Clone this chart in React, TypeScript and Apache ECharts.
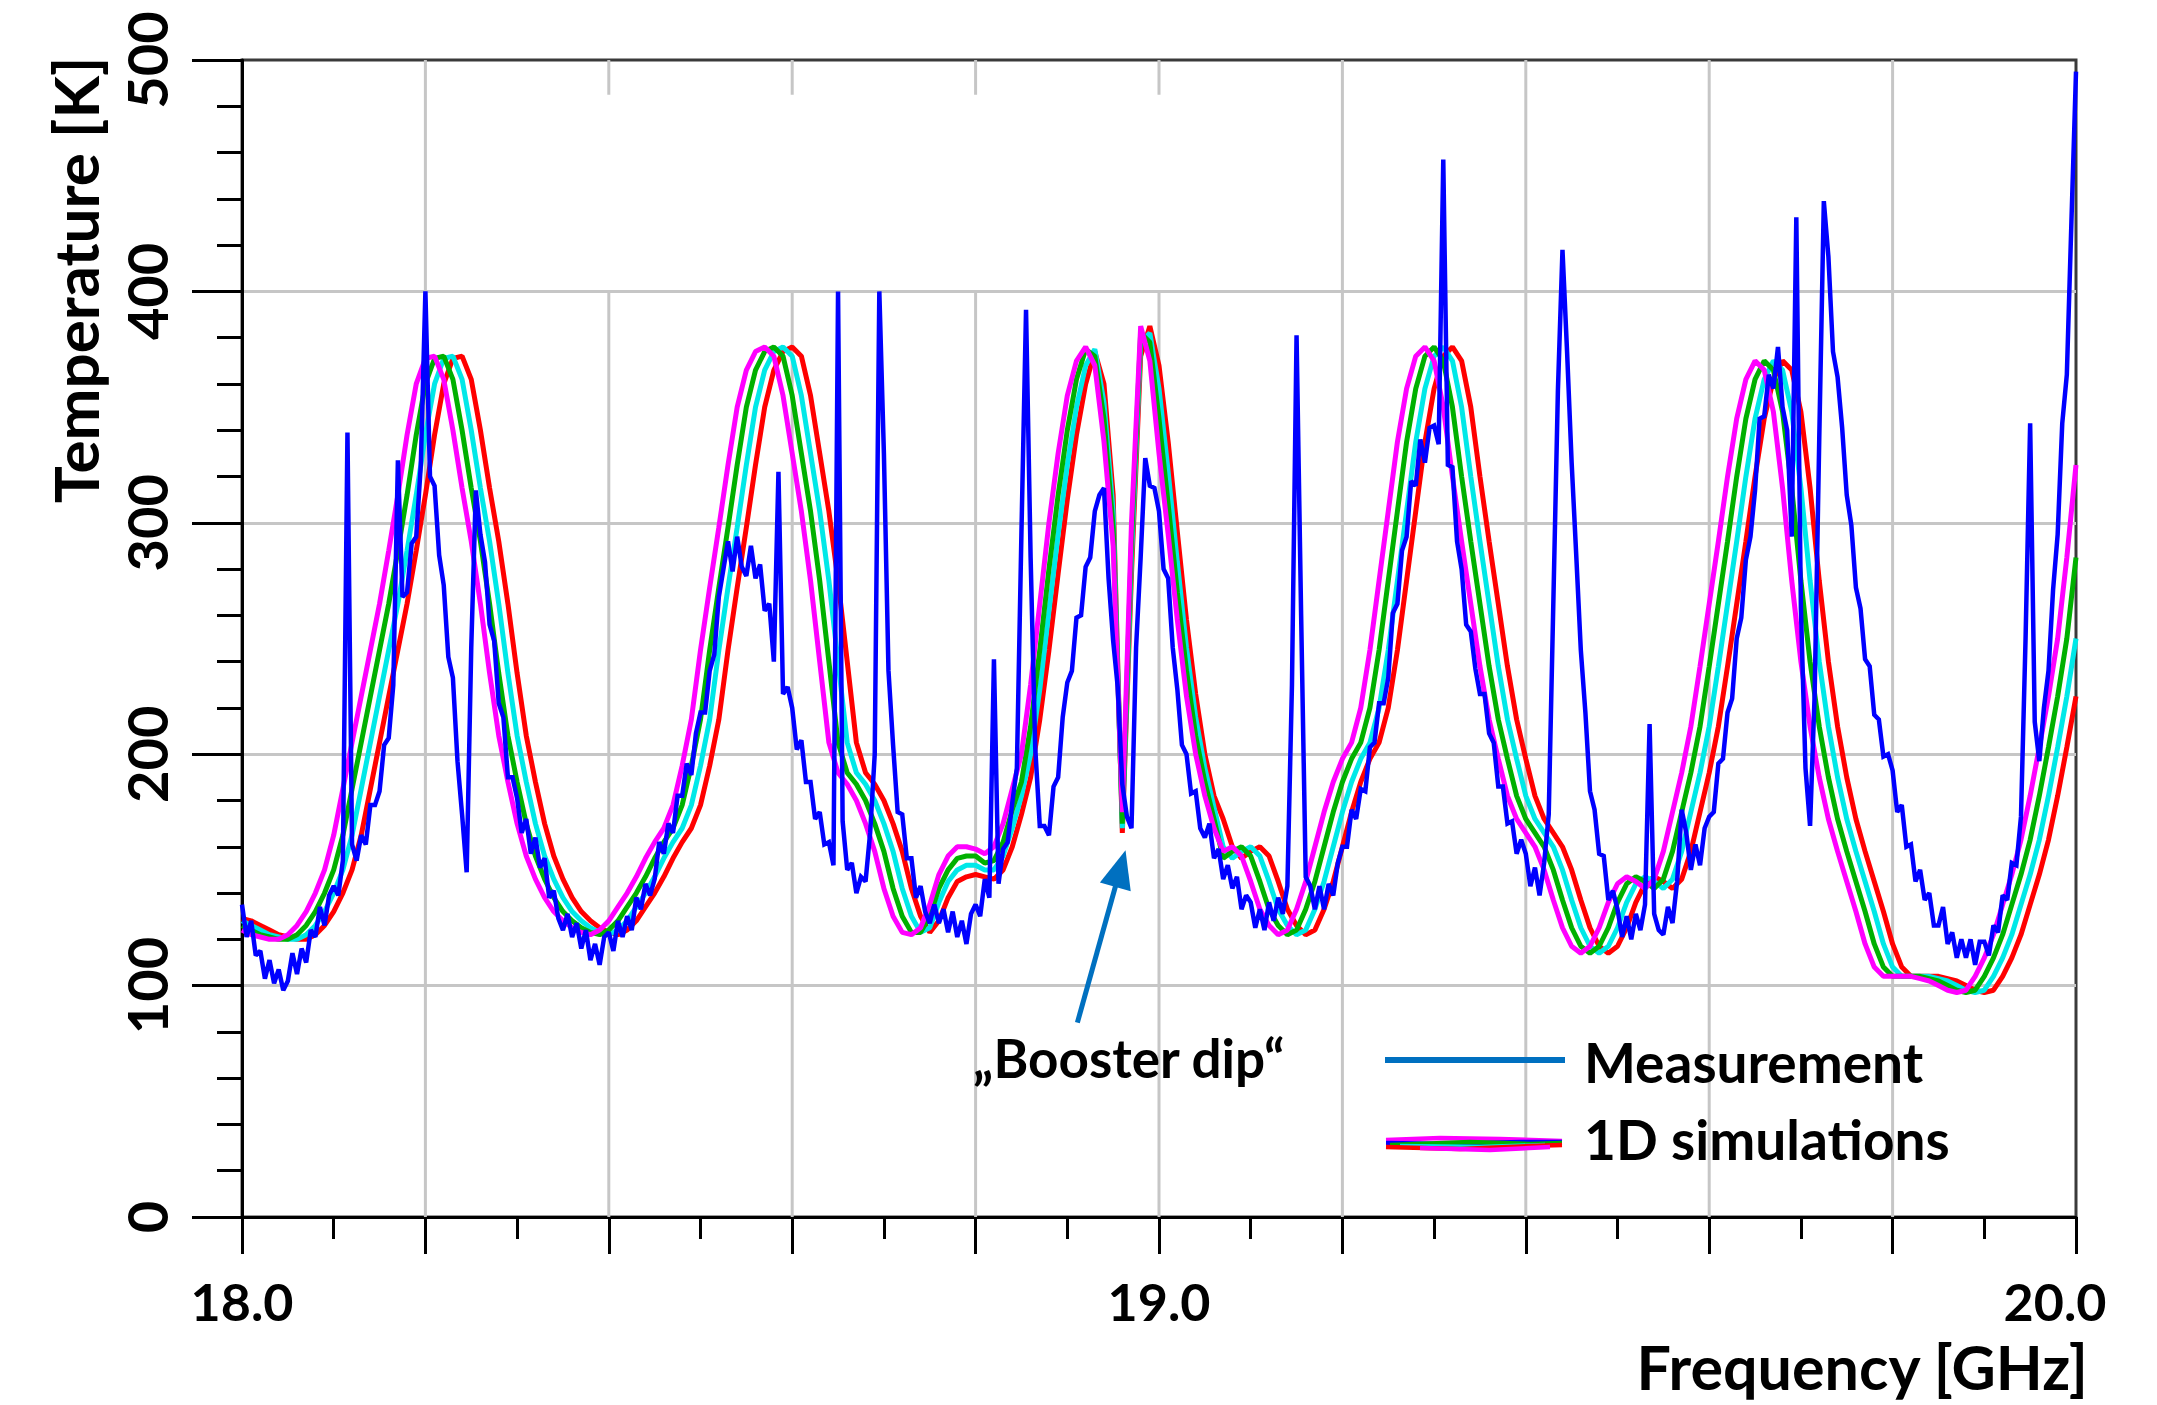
import React, { useEffect, useRef } from "react";
import * as echarts from "echarts";

// ---------- axis / tick settings ----------
const FREQ_MIN = 18.0;
const FREQ_MAX = 20.0;
const TEMP_MIN = 0;
const TEMP_MAX = 500;
const xLabelValues = [18.0, 19.0, 20.0];
const gridFreqs = [18.2, 18.4, 18.6, 18.8, 19.0, 19.2, 19.4, 19.6, 19.8];
// white patch of the original figure (hides the upper vertical grid): [x0, y0, x1, y1]
const maskedRegion = [18.2, 400, 19.034, 485];

// ---------- measurement (K), sampled every 0.005 GHz from 18.000 GHz ----------
const MEAS_START = 18.0;
const MEAS_STEP = 0.005;
const measA = [
  135, 121, 128, 113, 115, 103, 111, 101, 107, 98,
  102, 114, 105, 116, 110, 124, 121, 134, 126, 139,
  143, 139, 154, 339, 161, 154, 165, 161, 178, 178,
  184, 204, 207, 230, 327, 268, 270, 291, 294, 325,
  400, 320, 316, 286, 273, 242, 233, 197, 174, 149,
  246, 314, 295, 283, 256, 249, 222, 216, 190, 190,
  181, 166, 172, 157, 164, 151, 155, 138, 141, 129,
  124, 131, 121, 127, 116, 124, 111, 118, 109, 121,
  123, 115, 128, 121, 130, 124, 138, 133, 144, 139,
  146, 162, 157, 170, 166, 182, 182, 196, 191, 209,
];
const measB = [
  218, 218, 236, 243, 268, 280, 292, 279, 294, 281,
  277, 290, 276, 282, 262, 265, 240, 322, 226, 229,
  220, 202, 206, 188, 188, 172, 175, 161, 162, 152,
  400, 171, 150, 153, 140, 147, 145, 166, 200, 400,
  330, 236, 204, 175, 174, 155, 155, 138, 143, 132,
  127, 135, 127, 133, 123, 132, 121, 128, 118, 131,
  135, 130, 146, 138, 241, 144, 159, 162, 179, 194,
  296, 392, 285, 203, 169, 169, 165, 186, 190, 216,
  231, 236, 259, 260, 281, 285, 305, 312, 315, 276,
  249, 229, 187, 173, 168, 246, 285, 328, 316, 315,
];
const measC = [
  305, 280, 276, 246, 228, 204, 200, 183, 184, 168,
  164, 170, 155, 159, 146, 152, 142, 147, 133, 139,
  136, 125, 133, 124, 136, 128, 138, 131, 143, 230,
  381, 260, 147, 143, 133, 143, 133, 144, 139, 153,
  160, 160, 176, 172, 185, 184, 203, 205, 222, 222,
  233, 261, 265, 288, 294, 318, 316, 336, 326, 341,
  342, 334, 457, 325, 324, 292, 280, 256, 253, 237,
  226, 226, 209, 205, 186, 186, 170, 171, 157, 163,
  157, 143, 151, 139, 153, 174, 265, 357, 418, 374,
  326, 286, 245, 218, 184, 176, 157, 156, 137, 141,
];
const measD = [
  133, 121, 130, 120, 131, 124, 135, 213, 131, 124,
  122, 134, 127, 145, 176, 166, 150, 161, 152, 168,
  173, 175, 196, 198, 218, 224, 250, 259, 284, 294,
  314, 345, 346, 364, 358, 376, 350, 340, 294, 432,
  263, 194, 169, 226, 336, 439, 415, 374, 363, 341,
  312, 299, 272, 263, 241, 238, 217, 215, 199, 200,
  193, 175, 178, 160, 161, 145, 150, 137, 140, 126,
  126, 134, 118, 123, 112, 120, 112, 120, 109, 119,
  119, 113, 126, 123, 139, 137, 153, 152, 173, 250,
  343, 214, 197, 220, 236, 271, 295, 343, 364, 430,
  495,
];

// ---------- 1D simulations (K), sampled every 0.01 GHz from 18.00 GHz ----------
const SIM_START = 18.0;
const SIM_STEP = 0.01;
const simMagenta = [
  124, 122, 121, 120, 120, 122, 126, 132, 140, 150,
  165, 185, 205, 225, 245, 265, 288, 312, 338, 360,
  371, 372, 362, 340, 315, 292, 265, 235, 208, 188,
  170, 156, 146, 138, 132, 128, 125, 123, 122, 124,
  128, 134, 140, 147, 155, 162, 168, 178, 195, 215,
  245, 272, 298, 325, 350, 366, 374, 376, 372, 355,
  330, 305, 275, 240, 205, 192, 187, 180, 170, 158,
  142, 130, 123, 122, 125, 135, 148, 156, 160, 160,
  159, 157, 160, 170, 185, 200, 230, 265, 300, 330,
  355, 370, 376, 368, 335, 290, 175, 300, 385, 370,
  330, 295, 258, 225, 200, 182, 168, 158, 160, 156,
  145, 133, 126, 122, 124, 133, 145, 160, 175, 188,
  198, 205, 220, 245, 275, 305, 335, 358, 372, 376,
  370, 350, 320, 292, 265, 238, 215, 198, 182, 172,
  166, 160, 150, 137, 125, 117, 114, 117, 125, 136,
  144, 147, 145, 142, 146, 158, 175, 192, 212, 238,
  265, 292, 320, 345, 362, 370, 366, 348, 315, 275,
  240, 212, 190, 172, 158, 145, 132, 118, 108, 104,
  104, 104, 104, 103, 102, 100, 98, 97, 98, 104,
  112, 122, 135, 148, 163, 182, 203, 225, 250, 285,
  325,
];
const simGreen = [
  126, 124, 122, 121, 120, 120, 122, 126, 132, 140,
  150, 165, 185, 205, 225, 245, 265, 288, 312, 338,
  360, 371, 372, 362, 340, 315, 292, 265, 235, 208,
  188, 170, 156, 146, 138, 132, 128, 125, 123, 122,
  124, 128, 134, 140, 147, 155, 162, 168, 178, 195,
  215, 245, 272, 298, 325, 350, 366, 374, 376, 372,
  355, 330, 305, 275, 240, 205, 192, 187, 180, 170,
  158, 142, 130, 123, 123, 130, 142, 150, 155, 156,
  156, 153, 154, 162, 176, 188, 212, 245, 280, 312,
  340, 362, 375, 372, 345, 298, 170, 292, 382, 378,
  345, 308, 270, 236, 208, 188, 172, 155, 158, 160,
  156, 145, 133, 126, 122, 124, 133, 145, 160, 175,
  188, 198, 205, 220, 245, 275, 305, 335, 358, 372,
  376, 370, 350, 320, 292, 265, 238, 215, 198, 182,
  172, 166, 160, 150, 137, 125, 117, 114, 117, 125,
  136, 144, 147, 145, 142, 146, 158, 175, 192, 212,
  238, 265, 292, 320, 345, 362, 370, 366, 348, 315,
  275, 240, 212, 190, 172, 158, 145, 132, 118, 108,
  104, 104, 104, 104, 103, 102, 100, 98, 97, 98,
  104, 112, 122, 135, 148, 163, 182, 203, 225, 250,
  285,
];
const simCyan = [
  128, 126, 124, 122, 121, 120, 120, 122, 126, 132,
  140, 150, 165, 185, 205, 225, 245, 265, 288, 312,
  338, 360, 371, 372, 362, 340, 315, 292, 265, 235,
  208, 188, 170, 156, 146, 138, 132, 128, 125, 123,
  122, 124, 128, 134, 140, 147, 155, 162, 168, 178,
  195, 215, 245, 272, 298, 325, 350, 366, 374, 376,
  372, 355, 330, 305, 275, 240, 205, 192, 187, 180,
  170, 158, 142, 130, 123, 125, 136, 145, 150, 152,
  152, 150, 150, 156, 168, 182, 200, 228, 262, 295,
  325, 350, 368, 375, 352, 305, 168, 285, 378, 382,
  358, 322, 283, 246, 216, 194, 177, 160, 155, 158,
  160, 156, 145, 133, 126, 122, 124, 133, 145, 160,
  175, 188, 198, 205, 220, 245, 275, 305, 335, 358,
  372, 376, 370, 350, 320, 292, 265, 238, 215, 198,
  182, 172, 166, 160, 150, 137, 125, 117, 114, 117,
  125, 136, 144, 147, 145, 142, 146, 158, 175, 192,
  212, 238, 265, 292, 320, 345, 362, 370, 366, 348,
  315, 275, 240, 212, 190, 172, 158, 145, 132, 118,
  108, 104, 104, 104, 104, 103, 102, 100, 98, 97,
  98, 104, 112, 122, 135, 148, 163, 182, 203, 225,
  250,
];
const simRed = [
  129, 128, 126, 124, 122, 121, 120, 120, 122, 126,
  132, 140, 150, 165, 185, 205, 225, 245, 265, 288,
  312, 338, 360, 371, 372, 362, 340, 315, 292, 265,
  235, 208, 188, 170, 156, 146, 138, 132, 128, 125,
  123, 122, 124, 128, 134, 140, 147, 155, 162, 168,
  178, 195, 215, 245, 272, 298, 325, 350, 366, 374,
  376, 372, 355, 330, 305, 275, 240, 205, 192, 187,
  180, 170, 158, 142, 130, 123, 128, 138, 145, 147,
  148, 147, 146, 150, 160, 174, 190, 215, 245, 278,
  310, 338, 360, 374, 360, 312, 166, 278, 372, 385,
  368, 335, 296, 258, 226, 200, 182, 172, 160, 155,
  158, 160, 156, 145, 133, 126, 122, 124, 133, 145,
  160, 175, 188, 198, 205, 220, 245, 275, 305, 335,
  358, 372, 376, 370, 350, 320, 292, 265, 238, 215,
  198, 182, 172, 166, 160, 150, 137, 125, 117, 114,
  117, 125, 136, 144, 147, 145, 142, 146, 158, 175,
  192, 212, 238, 265, 292, 320, 345, 362, 370, 366,
  348, 315, 275, 240, 212, 190, 172, 158, 145, 132,
  118, 108, 104, 104, 104, 104, 103, 102, 100, 98,
  97, 98, 104, 112, 122, 135, 148, 163, 182, 203,
  225,
];

// annotation anchors (data coordinates)
const boosterArrowFrom = [18.911, 84];
const boosterArrowTip = [18.9635, 158.5];
const boosterLabelAt = [18.967, 69];

const FONT = 'Lato, "Open Sans", sans-serif';
const GRID_COLOR = "#c6c6c6";

function toPairs(values: number[], start: number, step: number) {
  return values.map((v, i) => [Number((start + i * step).toFixed(4)), v]);
}

export default function App() {
  const ref = useRef<HTMLDivElement>(null);
  useEffect(() => {
    if (!ref.current) return;
    const chart = echarts.init(ref.current, null, { renderer: "svg" });
    const measurement = toPairs([...measA, ...measB, ...measC, ...measD], MEAS_START, MEAS_STEP);
    const simSeries = [
      { name: "sim-red", data: simRed, color: "#FF0000" },
      { name: "sim-cyan", data: simCyan, color: "#00E8E8" },
      { name: "sim-green", data: simGreen, color: "#00B000" },
      { name: "sim-magenta", data: simMagenta, color: "#FF00FF" },
    ].map((s) => ({
      name: s.name,
      type: "line",
      data: toPairs(s.data, SIM_START, SIM_STEP),
      showSymbol: false,
      symbol: "none",
      silent: true,
      z: 2,
      lineStyle: { color: s.color, width: 5 },
      itemStyle: { color: s.color },
    }));

    // vertical grid lines (the ones inside the white patch are interrupted)
    const gridSegments: number[][][] = [];
    gridFreqs.forEach((f) => {
      if (f > maskedRegion[0] + 1e-9 && f < maskedRegion[2]) {
        gridSegments.push([[f, TEMP_MIN], [f, maskedRegion[1]]]);
        gridSegments.push([[f, maskedRegion[3]], [f, TEMP_MAX]]);
      } else {
        gridSegments.push([[f, TEMP_MIN], [f, TEMP_MAX]]);
      }
    });
    const gridSeries = gridSegments.map((seg, i) => ({
      name: `vgrid-${i}`,
      type: "line",
      data: seg,
      showSymbol: false,
      symbol: "none",
      silent: true,
      z: 1,
      lineStyle: { color: GRID_COLOR, width: 3 },
      itemStyle: { color: GRID_COLOR },
    }));

    const isNear = (v: number, t: number) => Math.abs(v - t) < 1e-6;
    const labelBase = { fontSize: 52, fontWeight: "bold", fontFamily: FONT, color: "#000" };

    chart.setOption({
      animation: false,
      backgroundColor: "#ffffff",
      grid: {
        left: 242,
        right: 81,
        top: 60,
        bottom: 188,
        show: true,
        borderColor: "#3a3a3a",
        borderWidth: 3,
        backgroundColor: "transparent",
      },
      xAxis: {
        type: "value",
        min: FREQ_MIN,
        max: FREQ_MAX,
        interval: 0.2,
        axisLine: { show: true, onZero: false, lineStyle: { color: "#000", width: 3 } },
        axisTick: { show: true, length: 37, lineStyle: { color: "#000", width: 3 } },
        minorTick: { show: true, splitNumber: 2, length: 22, lineStyle: { color: "#000", width: 3 } },
        splitLine: { show: false },
        axisLabel: {
          show: true,
          showMinLabel: true,
          showMaxLabel: true,
          margin: 58,
          formatter: (v: number) => {
            const hit = xLabelValues.find((t) => isNear(v, t));
            if (hit === undefined) return "";
            return isNear(hit, FREQ_MAX) ? `{r|${hit.toFixed(1)}}` : `{c|${hit.toFixed(1)}}`;
          },
          rich: {
            c: { ...labelBase },
            r: { ...labelBase, padding: [0, 42, 0, 0] },
          },
        },
      },
      yAxis: {
        type: "value",
        min: TEMP_MIN,
        max: TEMP_MAX,
        interval: 100,
        axisLine: { show: true, lineStyle: { color: "#000", width: 3 } },
        axisTick: { show: true, length: 50, lineStyle: { color: "#000", width: 3 } },
        minorTick: { show: true, splitNumber: 5, length: 25, lineStyle: { color: "#000", width: 3 } },
        splitLine: { show: true, showMinLine: false, showMaxLine: false, lineStyle: { color: GRID_COLOR, width: 3 } },
        axisLabel: { show: true, rotate: 90, margin: 68, ...labelBase, fontSize: 56 },
      },
      series: [
        ...gridSeries,
        ...simSeries,
        {
          name: "Measurement",
          type: "line",
          data: measurement,
          showSymbol: false,
          symbol: "none",
          silent: true,
          z: 3,
          lineStyle: { color: "#0000FF", width: 4.5, join: "miter", miterLimit: 2 },
          itemStyle: { color: "#0000FF" },
        },
      ],
    });

    const px = (p: number[]) => chart.convertToPixel({ gridIndex: 0 }, p) as number[];
    const S = px(boosterArrowFrom);
    const T = px(boosterArrowTip);
    const dx = T[0] - S[0];
    const dy = T[1] - S[1];
    const len = Math.hypot(dx, dy);
    const ux = dx / len;
    const uy = dy / len;
    const headLen = 38;
    const headHalf = 16;
    const bx = T[0] - ux * headLen;
    const by = T[1] - uy * headLen;
    const lab = px(boosterLabelAt);

    const txt = (text: string, x: number, y: number, size: number, align: string, vAlign: string, rotation = 0) => ({
      type: "text",
      x,
      y,
      rotation,
      z: 120,
      silent: true,
      style: {
        text,
        font: `bold ${size}px ${FONT}`,
        fill: "#000",
        align,
        verticalAlign: vAlign,
        textAlign: align,
        textVerticalAlign: vAlign,
      },
    });

    const smear = [
      { c: "#FF00FF", pts: [[1386, 1140], [1440, 1138], [1500, 1139], [1562, 1141]] },
      { c: "#0000FF", pts: [[1386, 1143], [1450, 1144], [1520, 1142], [1562, 1142]] },
      { c: "#00B000", pts: [[1390, 1145], [1470, 1142], [1530, 1144], [1562, 1143]] },
      { c: "#00E8E8", pts: [[1400, 1146], [1480, 1147], [1545, 1145]] },
      { c: "#FF0000", pts: [[1386, 1147], [1460, 1149], [1530, 1146], [1562, 1145]] },
      { c: "#FF00FF", pts: [[1420, 1148], [1490, 1150], [1550, 1147]] },
    ];

    chart.setOption({
      graphic: [
        {
          type: "line",
          z: 115,
          silent: true,
          shape: { x1: S[0], y1: S[1], x2: bx + ux * 4, y2: by + uy * 4 },
          style: { stroke: "#0070C0", lineWidth: 5 },
        },
        {
          type: "polygon",
          z: 115,
          silent: true,
          shape: {
            points: [
              [T[0], T[1]],
              [bx - uy * headHalf, by + ux * headHalf],
              [bx + uy * headHalf, by - ux * headHalf],
            ],
          },
          style: { fill: "#0070C0" },
        },
        txt("\u201EBooster dip\u201C", lab[0], lab[1], 53, "center", "middle"),
        {
          type: "line",
          z: 115,
          silent: true,
          shape: { x1: 1385, y1: 1060, x2: 1565, y2: 1060 },
          style: { stroke: "#0070C0", lineWidth: 6 },
        },
        ...smear.map((s) => ({
          type: "polyline",
          z: 115,
          silent: true,
          shape: { points: s.pts },
          style: { stroke: s.c, lineWidth: 4.5, fill: null },
        })),
        txt("Measurement", 1584, 1062, 55, "left", "middle"),
        txt("1D simulations", 1584, 1139, 55, "left", "middle"),
        txt("Temperature [K]", 106, 280, 62, "center", "bottom", Math.PI / 2),
        txt("Frequency [GHz]", 2088, 1366, 61, "right", "middle"),
      ],
    });

    return () => chart.dispose();
  }, []);

  return (
    <div
      ref={ref}
      style={{ position: "fixed", left: 0, top: 0, width: 2157, height: 1405, background: "#fff" }}
    />
  );
}
